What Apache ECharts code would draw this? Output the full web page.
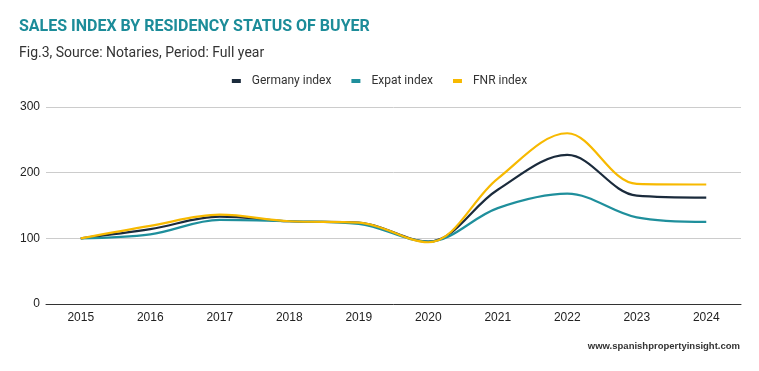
<!DOCTYPE html>
<html><head><meta charset="utf-8">
<script src="https://cdn.jsdelivr.net/npm/echarts@6/dist/echarts.min.js"></script>
<style>html,body{margin:0;padding:0;background:#fff}#c{width:759px;height:371px}</style>
</head><body><div id="c"></div>
<script>
const years = ['2015','2016','2017','2018','2019','2020','2021','2022','2023','2024'];
const germany = [100, 114, 133, 126, 124, 95, 174, 227, 165, 162];
const expat   = [100, 106, 128, 126, 122, 95, 146, 168, 132, 125];
const fnr     = [100, 119, 136, 126, 124, 94, 191, 260, 183, 182];
const yTicks = [0, 100, 200, 300];

const chart = echarts.init(document.getElementById('c'), null, {renderer:'canvas'});
const mk = (name, data, color) => ({
  name, type:'line', data, smooth:0.35, symbol:'none',
  lineStyle:{width:2.2, color}, itemStyle:{color}
});
chart.setOption({
  animation:false,
  title:[
    {text:'SALES INDEX BY RESIDENCY STATUS OF BUYER', left:14, top:14,
     textStyle:{fontFamily:'Roboto', fontWeight:'bold', fontSize:16, color:'#1c8c99'}},
    {text:'Fig.3, Source: Notaries, Period: Full year', left:14, top:41,
     textStyle:{fontFamily:'Roboto', fontWeight:'normal', fontSize:14, color:'#333'}},
    {text:'www.spanishpropertyinsight.com', right:14, top:336,
     textStyle:{fontFamily:'Liberation Sans', fontWeight:'bold', fontSize:9.5, color:'#333'}}
  ],
  legend:{top:70, left:'center', itemWidth:9, itemHeight:4, itemGap:20,
    icon:'rect',
    textStyle:{fontFamily:'Roboto', fontSize:12, color:'#333', padding:[0,0,0,6]},
    data:['Germany index','Expat index','FNR index']},
  grid:{left:46, right:18, top:107, bottom:67},
  xAxis:{type:'category', data:years, boundaryGap:true,
    axisLine:{lineStyle:{color:'#333', width:1}}, axisTick:{show:false},
    axisLabel:{fontFamily:'Liberation Sans', fontSize:12, color:'#222', margin:8}},
  yAxis:{type:'value', min:yTicks[0], max:yTicks[yTicks.length-1], interval:100,
    axisLine:{show:false}, axisTick:{show:false},
    splitLine:{lineStyle:{color:'#ccc', width:1}},
    axisLabel:{fontFamily:'Liberation Sans', fontSize:12, color:'#222', margin:6}},
  series:[
    mk('Germany index', germany, '#1b2b3c'),
    mk('Expat index', expat, '#1f8f9c'),
    mk('FNR index', fnr, '#f7b900')
  ]
});
</script></body></html>
